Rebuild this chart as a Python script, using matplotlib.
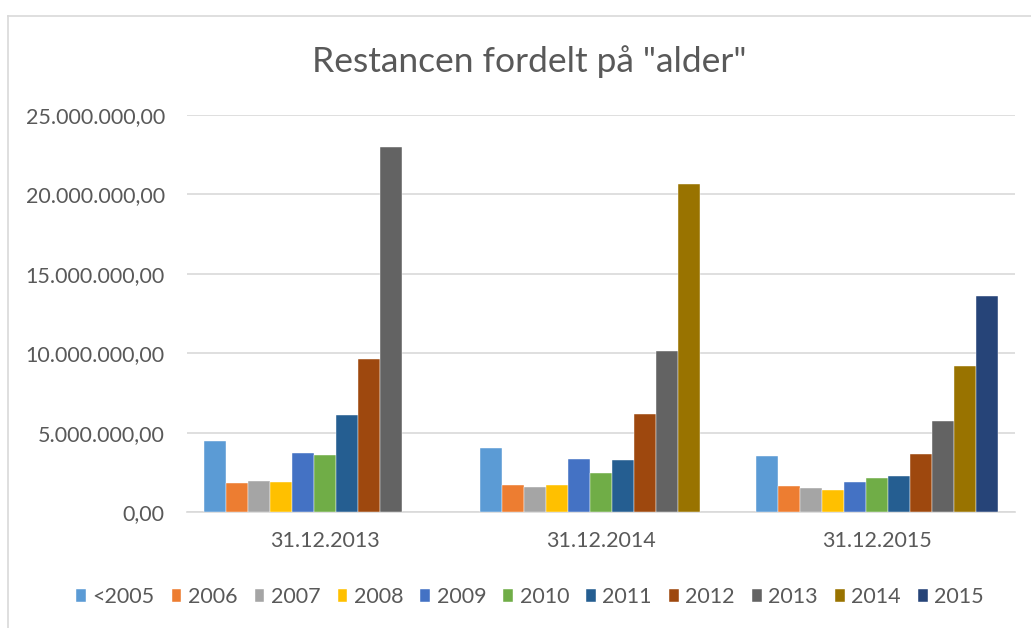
import numpy as np
import matplotlib
matplotlib.use("Agg")
import matplotlib.pyplot as plt
from matplotlib.lines import Line2D
from matplotlib.ticker import FuncFormatter

plt.rcParams["font.family"] = ["Lato", "DejaVu Sans"]

categories = ["31.12.2013", "31.12.2014", "31.12.2015"]
series = ["<2005", "2006", "2007", "2008", "2009", "2010", "2011", "2012", "2013", "2014", "2015"]
nan = np.nan
v_lt2005 = [4.47e6, 4.01e6, 3.53e6]
v_2006 = [1.83e6, 1.70e6, 1.64e6]
v_2007 = [1.95e6, 1.60e6, 1.51e6]
v_2008 = [1.89e6, 1.68e6, 1.36e6]
v_2009 = [3.74e6, 3.34e6, 1.91e6]
v_2010 = [3.61e6, 2.46e6, 2.14e6]
v_2011 = [6.11e6, 3.27e6, 2.25e6]
v_2012 = [9.63e6, 6.17e6, 3.67e6]
v_2013 = [22.98e6, 10.12e6, 5.75e6]
v_2014 = [nan, 20.68e6, 9.21e6]
v_2015 = [nan, nan, 13.60e6]
values = [v_lt2005, v_2006, v_2007, v_2008, v_2009, v_2010,
          v_2011, v_2012, v_2013, v_2014, v_2015]
colors = ["#5B9BD5", "#ED7D31", "#A5A5A5", "#FFC000", "#4472C4", "#70AD47",
          "#255E91", "#9E480E", "#636363", "#997300", "#264478"]

W, H = 1031, 628
fig = plt.figure(figsize=(W / 100, H / 100), dpi=100)
ax = fig.add_axes([187 / W, 1 - 512 / H, (1015 - 187) / W, (512 - 115) / H])

x = np.arange(len(categories))
bw = 0.08
n = len(series)
for j, (name, vals, c) in enumerate(zip(series, values, colors)):
    ax.bar(x + (j - (n - 1) / 2) * bw, vals, width=bw, color=c, label=name,
           edgecolor="white", linewidth=0.3, zorder=3)

ax.set_xlim(-0.5, len(categories) - 0.5)
ax.set_ylim(0, 25e6)
ax.set_yticks(np.arange(0, 25e6 + 1, 5e6))
ax.yaxis.set_major_formatter(FuncFormatter(
    lambda v, p: f"{v:,.2f}".replace(",", "X").replace(".", ",").replace("X", ".")))
ax.set_xticks(x)
ax.set_xticklabels(categories)
ax.grid(axis="y", color="#D9D9D9", linewidth=1.2, zorder=0)
for s in ["top", "right", "left"]:
    ax.spines[s].set_visible(False)
ax.spines["bottom"].set_color("#D9D9D9")
ax.spines["bottom"].set_linewidth(1.2)
ax.tick_params(axis="both", length=0, colors="#595959", labelsize=15.5)
ax.tick_params(axis="y", pad=16)
ax.tick_params(axis="x", pad=14)

fig.text(529.5 / W, 1 - 72 / H, 'Restancen fordelt på "alder"', ha="center",
         va="baseline", fontsize=25.5, color="#595959", fontweight="normal")

handles, labels = ax.get_legend_handles_labels()
fig.legend(handles, labels, loc="center", bbox_to_anchor=(530 / W, 1 - 597 / H),
           ncol=n, frameon=False, fontsize=15.5, labelcolor="#595959",
           handlelength=0.45, handleheight=0.6, handletextpad=0.3, columnspacing=0.8)

# chart area border
fig.add_artist(Line2D([8 / W, 8 / W], [0, 1 - 16 / H], color="#D9D9D9", lw=1.2))
fig.add_artist(Line2D([8 / W, 1], [1 - 16 / H, 1 - 16 / H], color="#D9D9D9", lw=1.2))

fig.savefig("out.png", dpi=100, facecolor="white")
